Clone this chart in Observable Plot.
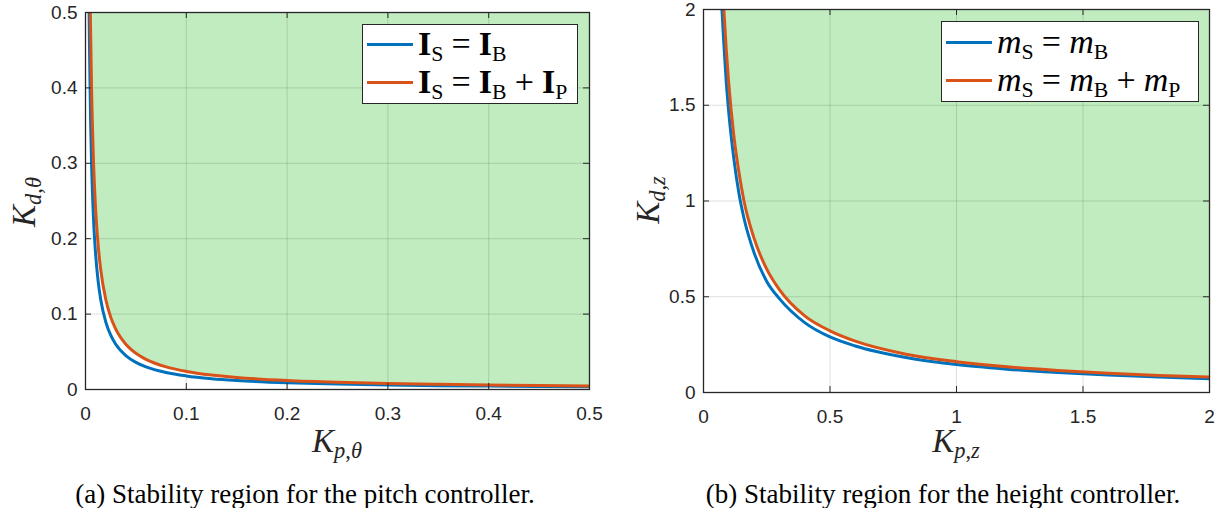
<!DOCTYPE html>
<html>
<head>
<meta charset="utf-8">
<script src="https://cdn.jsdelivr.net/npm/d3@7"></script>
<script src="https://cdn.jsdelivr.net/npm/@observablehq/plot@0.6"></script>
<style>
  html, body { margin: 0; padding: 0; background: #fff; }
  #wrap { position: relative; width: 1220px; height: 508px; overflow: hidden; }
  .panel { position: absolute; top: 0; }
  .lbl { position: absolute; font-family: "Liberation Serif", "Times New Roman", serif; font-size: 33px; color: #262626; white-space: nowrap; line-height: 1; }
  .lbl i { font-style: italic; }
  .lbl sub { font-size: 0.68em; vertical-align: -0.3em; line-height: 0; }
  .cap { position: absolute; font-family: "Liberation Serif", "Times New Roman", serif; font-size: 27px; color: #000; white-space: nowrap; transform: translate(-50%, -50%); line-height: 1; }
  .legend { position: absolute; background: #fff; border: 1px solid #262626; box-sizing: border-box; font-family: "Liberation Serif", "Times New Roman", serif; color: #000; }
  .row { position: absolute; left: 0; display: flex; align-items: center; white-space: nowrap; line-height: 1; }
  .sw { width: 46px; height: 3px; margin-left: 4px; margin-right: 5px; }
  .row sub { font-size: 0.64em; vertical-align: -0.28em; line-height: 0; font-style: normal; font-weight: normal; }
  .op { margin: 0 0.24em; font-weight: normal; font-style: normal; }
</style>
</head>
<body>
<div id="wrap"></div>
<script>
// ---------- data ----------
// Panel (a): pitch controller
const pitchKpBlue   = [0.0036, 0.004, 0.005, 0.006, 0.008, 0.010, 0.0125, 0.015, 0.020, 0.025, 0.030, 0.040, 0.050, 0.060, 0.080, 0.100, 0.125, 0.150, 0.200, 0.250, 0.300, 0.350, 0.400, 0.450, 0.500];
const pitchKdBlue   = [0.500, 0.450, 0.360, 0.300, 0.225, 0.180, 0.144, 0.120, 0.090, 0.072, 0.060, 0.045, 0.036, 0.030, 0.0225, 0.018, 0.0144, 0.012, 0.009, 0.0072, 0.006, 0.0051, 0.0045, 0.0040, 0.0036];
const pitchKpOrange = [0.0048, 0.005, 0.006, 0.008, 0.010, 0.0125, 0.015, 0.020, 0.025, 0.030, 0.040, 0.050, 0.060, 0.080, 0.100, 0.125, 0.150, 0.200, 0.250, 0.300, 0.350, 0.400, 0.450, 0.500];
const pitchKdOrange = [0.500, 0.480, 0.400, 0.300, 0.240, 0.192, 0.160, 0.120, 0.096, 0.080, 0.060, 0.048, 0.040, 0.030, 0.024, 0.0192, 0.016, 0.012, 0.0096, 0.008, 0.0069, 0.0060, 0.0053, 0.0048];
const pitchTicks = [0, 0.1, 0.2, 0.3, 0.4, 0.5];

// Panel (b): height controller
const heightKpBlue   = [0.073, 0.08, 0.09, 0.10, 0.12, 0.14, 0.16, 0.20, 0.25, 0.30, 0.40, 0.50, 0.60, 0.80, 1.00, 1.20, 1.40, 1.60, 1.80, 2.00];
const heightKdBlue   = [2.00, 1.83, 1.62, 1.46, 1.22, 1.04, 0.91, 0.73, 0.58, 0.49, 0.365, 0.29, 0.243, 0.183, 0.146, 0.122, 0.104, 0.091, 0.081, 0.072];
const heightKpOrange = [0.0805, 0.09, 0.10, 0.12, 0.14, 0.16, 0.20, 0.25, 0.30, 0.40, 0.50, 0.60, 0.80, 1.00, 1.20, 1.40, 1.60, 1.80, 2.00];
const heightKdOrange = [2.00, 1.79, 1.61, 1.34, 1.15, 1.00, 0.805, 0.644, 0.537, 0.40, 0.322, 0.268, 0.20, 0.161, 0.134, 0.115, 0.10, 0.089, 0.081];
const heightTicks = [0, 0.5, 1, 1.5, 2];

const BLUE = "#0072BD", ORANGE = "#D95319", GREEN = "#c0ecc0", AXIS = "#262626";

const zip = (xs, ys) => xs.map((x, i) => ({kp: x, kd: ys[i]}));

function panel({kpB, kdB, kpO, kdO, ticks, max, mL, mR, mT, mB}) {
  const W = 610, H = 470;
  const innerH = H - mT - mB, innerW = W - mL - mR;
  const blue = zip(kpB, kdB), orange = zip(kpO, kdO);
  const fmt = d3.format("~g");
  return Plot.plot({
    width: W, height: H,
    marginLeft: mL, marginRight: mR, marginTop: mT, marginBottom: mB,
    x: {domain: [0, max]},
    y: {domain: [0, max]},
    style: {fontFamily: "'Liberation Sans', Arial, sans-serif", fontSize: "19px", color: AXIS, background: "transparent", overflow: "visible"},
    marks: [
      Plot.areaY(orange, {x: "kp", y1: "kd", y2: () => max, fill: GREEN, curve: "monotone-x", clip: true}),
      Plot.gridX(ticks, {stroke: "#000", strokeOpacity: 0.13, strokeWidth: 1}),
      Plot.gridY(ticks, {stroke: "#000", strokeOpacity: 0.13, strokeWidth: 1}),
      Plot.line(blue, {x: "kp", y: "kd", stroke: BLUE, strokeWidth: 3, curve: "monotone-x", clip: true}),
      Plot.line(orange, {x: "kp", y: "kd", stroke: ORANGE, strokeWidth: 3, curve: "monotone-x", clip: true}),
      Plot.axisX(ticks, {tickSize: 0, tickPadding: 17, tickFormat: fmt, label: null, fill: AXIS}),
      Plot.axisY(ticks, {tickSize: 0, tickPadding: 8, tickFormat: fmt, label: null, fill: AXIS}),
      Plot.ruleX(ticks, {x: d => d, insetTop: innerH - 6, stroke: AXIS, strokeWidth: 1}),
      Plot.ruleX(ticks, {x: d => d, insetBottom: innerH - 6, stroke: AXIS, strokeWidth: 1}),
      Plot.ruleY(ticks, {y: d => d, insetRight: innerW - 6, stroke: AXIS, strokeWidth: 1}),
      Plot.ruleY(ticks, {y: d => d, insetLeft: innerW - 6, stroke: AXIS, strokeWidth: 1}),
      Plot.frame({stroke: AXIS, strokeWidth: 1.3})
    ]
  });
}

const wrap = document.getElementById("wrap");

const a = panel({kpB: pitchKpBlue, kdB: pitchKdBlue, kpO: pitchKpOrange, kdO: pitchKdOrange, ticks: pitchTicks, max: 0.5, mL: 85, mR: 21, mT: 12, mB: 81});
a.classList.add("panel"); a.style.left = "0px";
wrap.appendChild(a);

const b = panel({kpB: heightKpBlue, kdB: heightKdBlue, kpO: heightKpOrange, kdO: heightKdOrange, ticks: heightTicks, max: 2, mL: 93, mR: 11, mT: 9, mB: 78});
b.classList.add("panel"); b.style.left = "610px";
wrap.appendChild(b);

function addHTML(html) {
  const t = document.createElement("div");
  t.innerHTML = html;
  const el = t.firstElementChild;
  wrap.appendChild(el);
  return el;
}

// axis labels
addHTML('<div class="lbl" style="left:337px; top:441px; transform:translate(-50%,-50%)"><i>K</i><sub><i>p</i>,<i>θ</i></sub></div>');
addHTML('<div class="lbl" style="left:956px; top:441px; transform:translate(-50%,-50%)"><i>K</i><sub><i>p</i>,<i>z</i></sub></div>');
addHTML('<div class="lbl" style="left:24px; top:202px; transform:translate(-50%,-50%) rotate(-90deg)"><i>K</i><sub><i>d</i>,<i>θ</i></sub></div>');
addHTML('<div class="lbl" style="left:648px; top:200px; transform:translate(-50%,-50%) rotate(-90deg)"><i>K</i><sub><i>d</i>,<i>z</i></sub></div>');

// captions
addHTML('<div class="cap" style="left:305px; top:494px">(a) Stability region for the pitch controller.</div>');
addHTML('<div class="cap" style="left:943px; top:494px">(b) Stability region for the height controller.</div>');

// legends
addHTML('<div class="legend" style="left:362px; top:24px; width:216px; height:80px; font-size:34px">' +
  '<div class="row" style="top:0px; height:38px"><div class="sw" style="background:' + BLUE + '"></div><span><b>I</b><sub>S</sub><span class="op">=</span><b>I</b><sub>B</sub></span></div>' +
  '<div class="row" style="top:38px; height:38px"><div class="sw" style="background:' + ORANGE + '"></div><span><b>I</b><sub>S</sub><span class="op">=</span><b>I</b><sub>B</sub><span class="op">+</span><b>I</b><sub>P</sub></span></div>' +
  '</div>');
addHTML('<div class="legend" style="left:941px; top:21px; width:258px; height:81px; font-size:34px">' +
  '<div class="row" style="top:1px; height:38px"><div class="sw" style="background:' + BLUE + '"></div><span><i>m</i><sub>S</sub><span class="op">=</span><i>m</i><sub>B</sub></span></div>' +
  '<div class="row" style="top:39px; height:38px"><div class="sw" style="background:' + ORANGE + '"></div><span><i>m</i><sub>S</sub><span class="op">=</span><i>m</i><sub>B</sub><span class="op">+</span><i>m</i><sub>P</sub></span></div>' +
  '</div>');
</script>
</body>
</html>
